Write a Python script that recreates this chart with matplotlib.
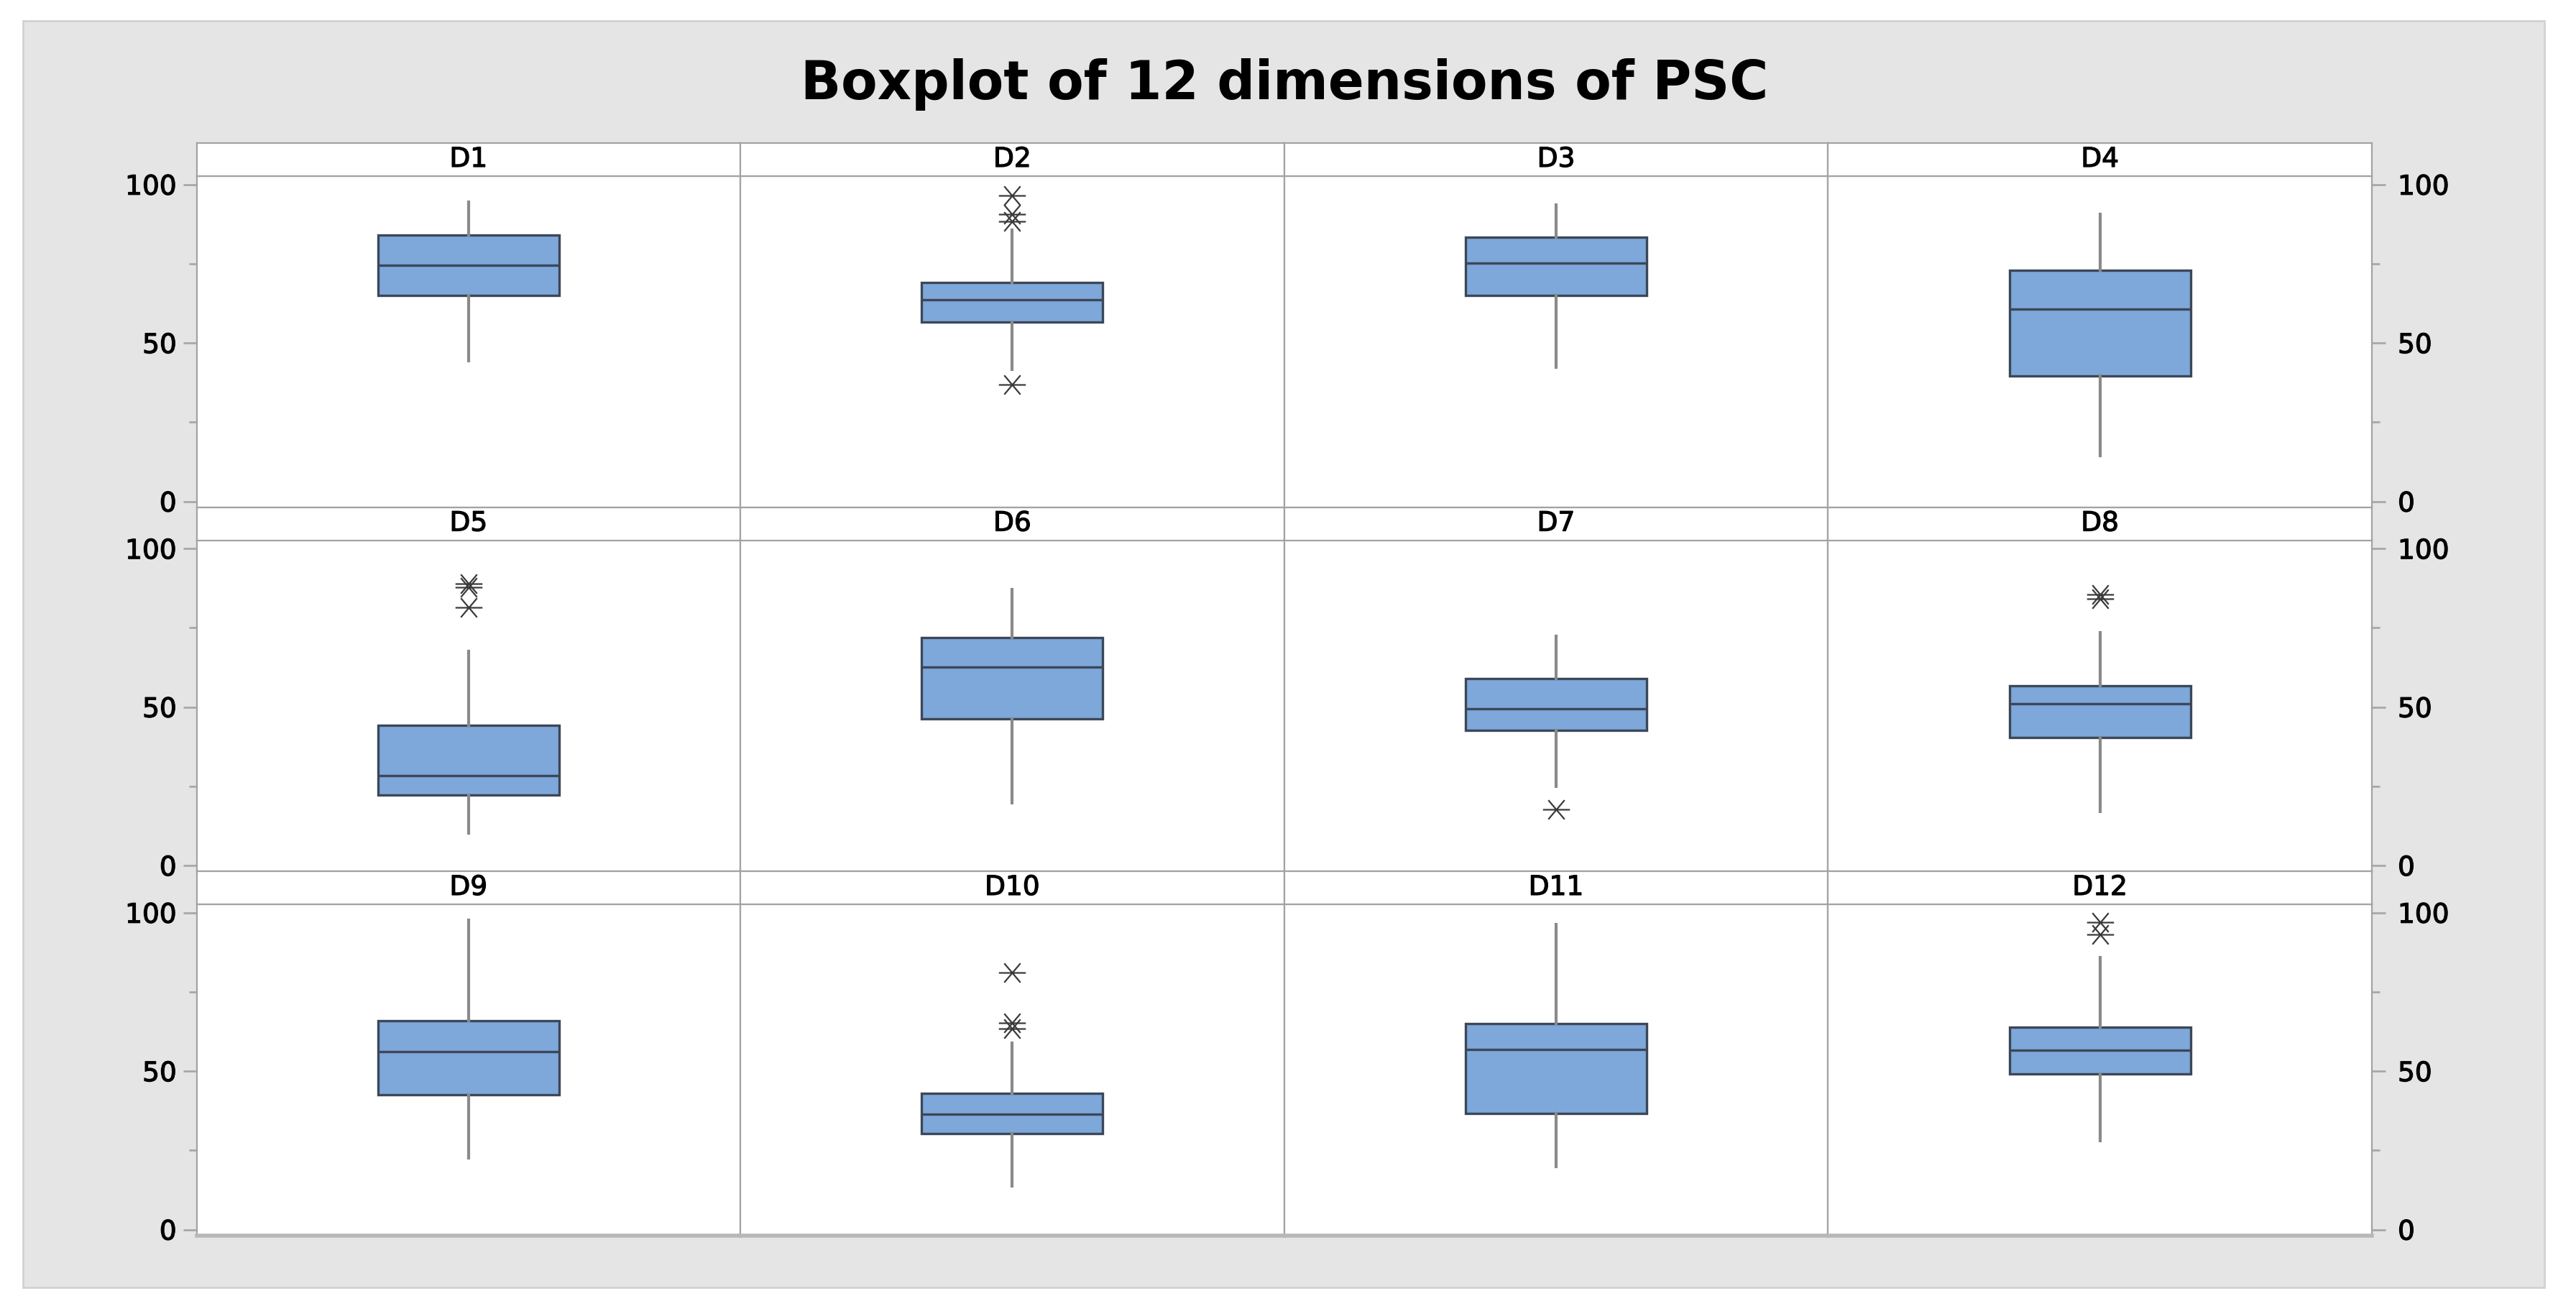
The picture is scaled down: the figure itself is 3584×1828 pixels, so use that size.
import matplotlib
matplotlib.use('Agg')
import matplotlib.pyplot as plt
import matplotlib.patheffects as pe
from matplotlib.path import Path
from matplotlib.patches import Rectangle
from matplotlib.markers import MarkerStyle

# values
dims = ['D1', 'D2', 'D3', 'D4', 'D5', 'D6', 'D7', 'D8', 'D9', 'D10', 'D11', 'D12']
whislo = [44.3, 41.6, 42.4, 14.5, 10.3, 19.7, 25.0, 17.1, 22.5, 13.8, 19.8, 28.0]
q1 = [65.0, 56.7, 65.1, 39.6, 22.2, 46.3, 42.7, 40.3, 42.5, 30.3, 36.7, 49.2]
med = [74.5, 63.7, 75.3, 60.7, 28.4, 62.7, 49.5, 51.0, 56.1, 36.3, 56.9, 56.7]
q3 = [84.0, 69.0, 83.4, 73.0, 44.2, 72.0, 58.9, 56.7, 65.8, 42.9, 65.1, 63.9]
whishi = [94.4, 85.7, 93.6, 90.6, 67.6, 87.2, 72.3, 73.6, 97.7, 58.8, 96.2, 85.9]
outliers = [[], [96.6, 90.6, 88.3, 36.9], [], [],
            [89.0, 87.7, 81.5], [], [17.6], [85.6, 84.1],
            [], [81.1, 65.2, 63.3], [], [97.0, 93.2]]
yticks = [0, 50, 100]
yminor = [25, 75]

W, H = 3584, 1828
fig = plt.figure(figsize=(W / 100, H / 100), dpi=100)
fig.patch.set_facecolor('white')

# grey outer panel
fig.patches.append(Rectangle((32 / W, 1 - 1791 / H), (3540 - 32) / W, (1791 - 29) / H,
                             transform=fig.transFigure, facecolor='#e5e5e5',
                             edgecolor='#d2d2d2', lw=2, zorder=-1))

# minitab style asterisk marker
star = Path([(-0.5, 0), (0.5, 0), (-0.3, -0.355), (0.3, 0.355), (-0.3, 0.355), (0.3, -0.355)],
            [Path.MOVETO, Path.LINETO] * 3)

# thicken text a bit, the original font is heavier than DejaVu regular
heavy = [pe.withStroke(linewidth=0.9, foreground='black')]

left = 273.5
colw = 756.6
top0 = 199
pitch = 506.5
strip_h = 46
line_c = '#a3a3a3'

for i, name in enumerate(dims):
    r, c = divmod(i, 4)
    x0 = left + c * colw
    t = top0 + r * pitch
    ax = fig.add_axes([x0 / W, 1 - (t + pitch) / H, colw / W, (pitch - strip_h) / H])
    st = fig.add_axes([x0 / W, 1 - (t + strip_h) / H, colw / W, strip_h / H])

    stats = [dict(med=med[i], q1=q1[i], q3=q3[i], whislo=whislo[i], whishi=whishi[i],
                  fliers=outliers[i])]
    ax.bxp(stats, positions=[0.5], widths=[0.333], patch_artist=True, showcaps=False,
           boxprops=dict(facecolor='#7ea7da', edgecolor='#3c4758', lw=2.4),
           medianprops=dict(color='#3c4758', lw=2.4),
           whiskerprops=dict(color='#8a8a8a', lw=3),
           flierprops=dict(marker=MarkerStyle(star), markersize=27, markerfacecolor='none',
                           markeredgecolor='#3a3a3a', markeredgewidth=1.6, linestyle='none'))
    ax.set_xlim(0, 1)
    ax.set_ylim(-1.81, 102.65)
    ax.set_xticks([])

    for a in (ax, st):
        for sp in a.spines.values():
            sp.set_color(line_c)
            sp.set_linewidth(1.6)
    if r == 2:
        ax.spines['bottom'].set_color('#b8b8b8')
        ax.spines['bottom'].set_linewidth(4)

    if c == 0 or c == 3:
        ax.set_yticks(yticks)
        ax.set_yticks(yminor, minor=True)
        if c == 3:
            ax.yaxis.tick_right()
            ax.yaxis.set_ticks_position('right')
            pad = 12
        else:
            pad = 6
        ax.tick_params(axis='y', which='major', length=14, width=2, color='#a8a8a8',
                       labelsize=27, pad=pad)
        ax.tick_params(axis='y', which='minor', length=8, width=2, color='#a8a8a8')
        for lab in ax.get_yticklabels():
            lab.set_path_effects(heavy)
    else:
        ax.set_yticks([])

    st.set_xticks([])
    st.set_yticks([])
    st.text(0.5, 0.5, name, ha='center', va='center', fontsize=27, transform=st.transAxes,
            path_effects=heavy)

fig.text((left + 2 * colw) / W, 1 - 138 / H, 'Boxplot of 12 dimensions of PSC',
         ha='center', va='baseline', fontsize=53, fontweight='bold')

fig.savefig('out.png', dpi=100)
